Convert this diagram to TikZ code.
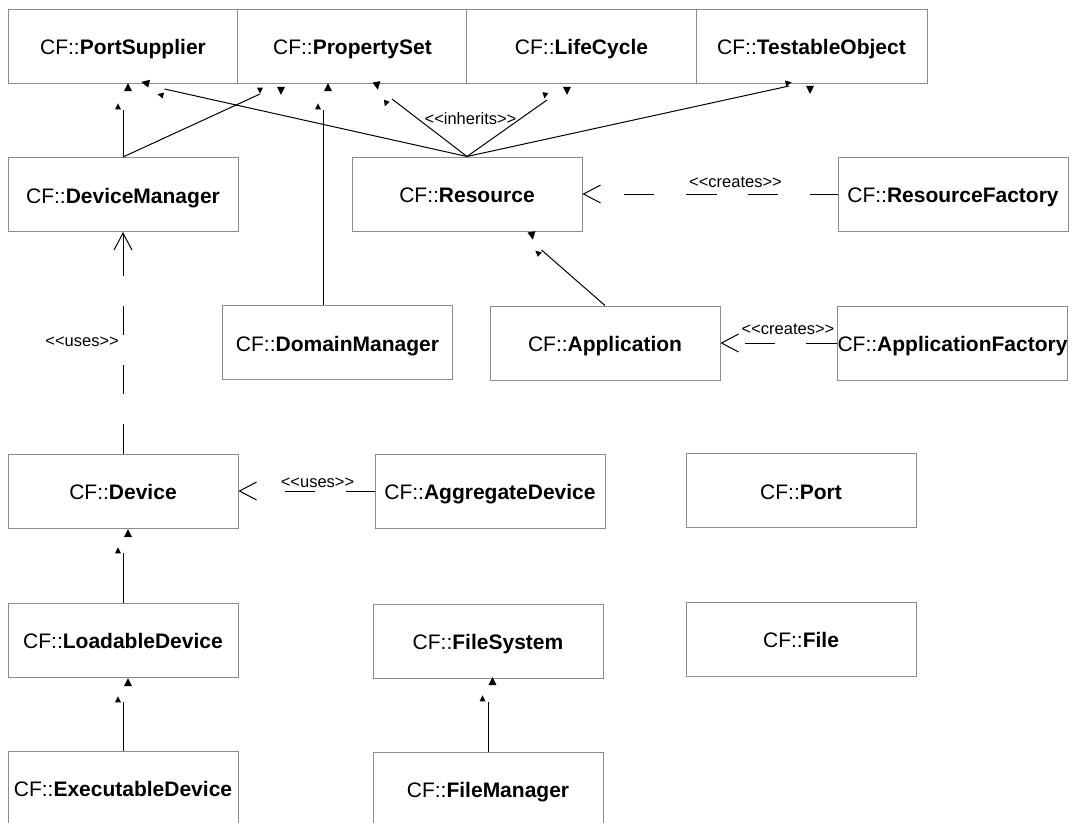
\documentclass[tikz,border=0pt]{standalone}
\usepackage{fontspec}
\setmainfont{Liberation Sans}
\usetikzlibrary{arrows.meta}
\definecolor{boxgray}{RGB}{140,140,140}
\newcommand{\tri}[4]{\fill[shift={(#1,#2)},rotate=#3] (0.6*#4,0) -- (-0.4*#4,0.5*#4) -- (-0.4*#4,-0.5*#4) -- cycle;}
\newcommand{\stereo}[1]{<\kern0pt<#1>\kern0pt>}
\begin{document}
\begin{tikzpicture}[x=1pt,y=-1pt,
 cls/.style={draw=boxgray, fill=white, line width=1pt, minimum width=230pt, minimum height=74pt,
   inner sep=0pt, text height=17pt, text depth=0pt, font=\fontsize{21}{24}\selectfont},
 inh/.style={draw=black, line width=1pt},
 dep/.style={draw=black, line width=1pt, -{Straight Barb[length=17pt,width=18pt]}},
 lbl/.style={inner sep=0pt, font=\fontsize{16.5}{19}\selectfont}]
\useasboundingbox (0,0) rectangle (1079,822);
\clip (0,0) rectangle (1079,822);
\fill[white] (0,0) rectangle (1079,822);

% classes
\node[cls] (ps) at (123,46) {CF::\textbf{PortSupplier}};
\node[cls] (pset) at (352.5,46) {CF::\textbf{PropertySet}};
\node[cls] (lc) at (581.5,46) {CF::\textbf{LifeCycle}};
\node[cls, minimum width=231pt] (to) at (811.5,46) {CF::\textbf{TestableObject}};
\node[cls] (dm) at (123,194.5) {CF::\textbf{DeviceManager}};
\node[cls] (res) at (467,194) {CF::\textbf{Resource}};
\node[cls] (rf) at (953,194) {CF::\textbf{ResourceFactory}};
\node[cls] (dom) at (337.5,342.5) {CF::\textbf{DomainManager}};
\node[cls] (app) at (605,343) {CF::\textbf{Application}};
\node[cls] (af) at (952.5,343) {CF::\textbf{ApplicationFactory}};
\node[cls] (dev) at (123,491) {CF::\textbf{Device}};
\node[cls] (agg) at (490,491) {CF::\textbf{AggregateDevice}};
\node[cls] (port) at (801,490.5) {CF::\textbf{Port}};
\node[cls] (ld) at (123,640) {CF::\textbf{LoadableDevice}};
\node[cls] (fs) at (488,641) {CF::\textbf{FileSystem}};
\node[cls] (file) at (801,639) {CF::\textbf{File}};
\node[cls] (ed) at (123,788) {CF::\textbf{ExecutableDevice}};
\node[cls] (fm) at (488,789) {CF::\textbf{FileManager}};

% free ends of generalisation lines
\coordinate (e1) at (123,110);
\coordinate (e2) at (260,94);
\coordinate (e3) at (323,110);
\coordinate (e4) at (164.5,89);
\coordinate (e5) at (392,99);
\coordinate (e6) at (547,100);
\coordinate (e7) at (789,86);
\coordinate (e8) at (541.5,250);
\coordinate (e9) at (123,553);
\coordinate (e10) at (123,702);
\coordinate (e11) at (488,702);

% generalisations
\draw[inh] (dm.north) -- (e1);
\draw[inh] (dm.north) -- (e2);
\draw[inh] ([xshift=-14.5pt]dom.north) -- (e3);
\draw[inh] (res.north) -- (e4);
\draw[inh] (res.north) -- (e5);
\draw[inh] (res.north) -- (e6);
\draw[inh] (res.north) -- (e7);
\draw[inh] (app.north) -- (e8);
\draw[inh] (ld.north) -- (e9);
\draw[inh] (ed.north) -- (e10);
\draw[inh] (fm.north) -- (e11);

% triangle marks (rotate = screen angle, counter-clockwise)
\tri{128}{88}{90}{8}
\tri{118}{107}{90}{6}
\tri{146}{83}{167}{8}
\tri{161}{95}{167}{6}
\tri{260}{90}{-90}{6}
\tri{281}{90}{-90}{8}
\tri{328}{88}{90}{8}
\tri{318}{107}{90}{6}
\tri{377}{85}{-80}{8}
\tri{386}{103}{-110}{6}
\tri{545}{95}{-100}{6}
\tri{567}{90}{-90}{8}
\tri{788}{83}{12}{6}
\tri{810}{89}{-90}{8}
\tri{532}{235}{-80}{8}
\tri{538}{253}{139}{6}
\tri{128}{534}{90}{8}
\tri{118}{551}{90}{6}
\tri{128}{683}{90}{8}
\tri{118}{700}{90}{6}
\tri{492.5}{682}{90}{8}
\tri{482.5}{699}{90}{6}

% dependencies
\draw[dep, dash pattern=on 30pt off 30pt on 29pt off 30pt on 29pt off 30pt on 60pt] (dev.north) -- (dm.south);
\draw[dep, dash pattern=on 29pt off 31pt on 30pt off 60pt] (agg.west) -- (dev.east);
\draw[dep, dash pattern=on 28pt off 32pt on 30pt off 31pt on 31pt off 32pt on 30pt off 60pt] (rf.west) -- (res.east);
\draw[dep, dash pattern=on 31pt off 31pt on 30pt off 60pt] (af.west) -- (app.east);

% labels
\node[lbl, anchor=east] (l1) at (119,342) {\stereo{uses}};
\node[lbl] (l2) at (317.5,483) {\stereo{uses}};
\node[lbl] (l3) at (735.5,182) {\stereo{creates}};
\node[lbl] (l4) at (788,329) {\stereo{creates}};
\node[lbl] (l5) at (470.5,119) {\stereo{inherits}};
\end{tikzpicture}
\end{document}
